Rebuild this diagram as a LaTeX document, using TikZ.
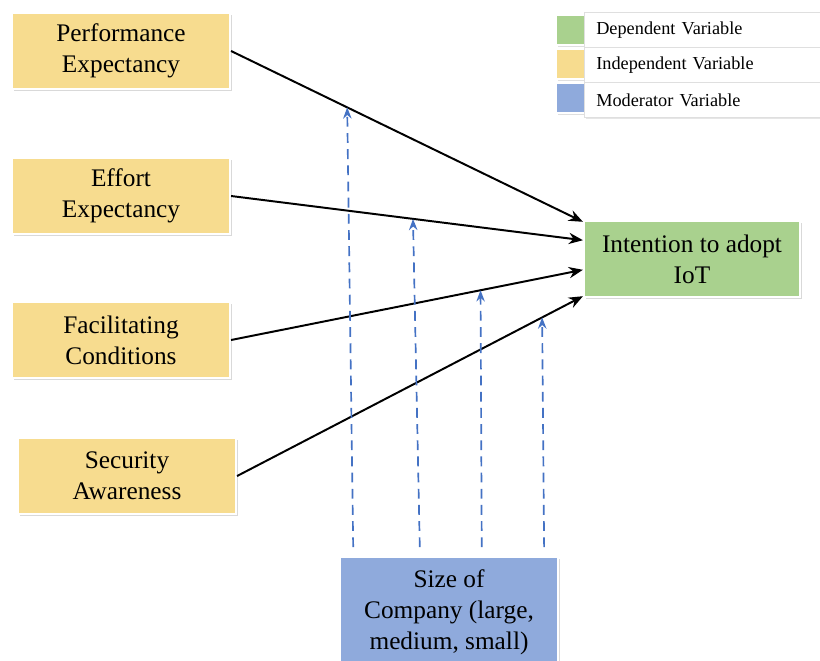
\documentclass[tikz,border=0pt]{standalone}
\usepackage{xcolor}
\usepackage{fontspec}
\setmainfont{Liberation Serif}
\usepackage{tikz}
\usetikzlibrary{shapes,arrows.meta,positioning,calc,shadows}

\definecolor{ivcol}{RGB}{247,220,143}
\definecolor{dvcol}{RGB}{169,209,142}
\definecolor{mvcol}{RGB}{143,170,220}
\definecolor{modline}{RGB}{68,114,196}

\tikzset{
  varbox/.style={rectangle, draw=white, line width=1.5pt, minimum width=5.45cm, minimum height=1.9cm,
    align=center, font=\rmfamily\fontsize{18}{22}\selectfont,
    drop shadow={opacity=0.3, shadow xshift=0.6mm, shadow yshift=-0.6mm}},
  keybox/.style={rectangle, draw=gray!25, fill=white, minimum height=0.875cm, text width=5.4cm,
    inner xsep=0.3cm, align=left, anchor=west, font=\rmfamily\fontsize{13}{15}\selectfont,
    drop shadow={opacity=0.2, shadow xshift=0.4mm, shadow yshift=-0.4mm}},
  swatch/.style={rectangle, draw=white, line width=1pt, minimum size=0.75cm,
    drop shadow={opacity=0.25, shadow xshift=0.4mm, shadow yshift=-0.4mm}},
  effect/.style={-{Stealth[length=10pt, width=8pt]}, line width=1.4pt},
  moderate/.style={-{Stealth[length=8pt, width=6pt]}, line width=1.2pt, modline, dash pattern=on 7pt off 4.5pt}
}

\begin{document}
\begin{tikzpicture}[x=0.025cm, y=-0.025cm]
        \useasboundingbox (0,0) rectangle (820,660);

        % Independent variables
        \node (perf) [varbox, fill=ivcol] at (121,51) {Performance\\Expectancy};
        \node (effort) [varbox, fill=ivcol] at (121,196) {Effort\\Expectancy};
        \node (facil) [varbox, fill=ivcol] at (121,340) {Facilitating\\Conditions};
        \node (secur) [varbox, fill=ivcol] at (127,476) {Security\\Awareness};

        % Dependent and moderator
        \node (intent) [varbox, fill=dvcol, minimum width=5.4cm] at (692,259) {Intention to adopt\\IoT};
        \node (size) [varbox, fill=mvcol, minimum height=2.75cm] at (449,612) {Size of\\Company (large,\\medium, small)};

        % Legend
        \node (depsw) [swatch, fill=dvcol] at (571,30) {};
        \node (indsw) [swatch, fill=ivcol] at (571,64) {};
        \node (modsw) [swatch, fill=mvcol] at (571,98) {};
        \node (depkey) [keybox] at (584,30) {Dependent Variable};
        \node (indkey) [keybox] at (584,65) {Independent Variable};
        \node (modkey) [keybox] at (584,100) {Moderator Variable};

        % Arrows
        \draw[effect] (perf.east) -- coordinate[pos=0.33] (m1) ([yshift=0.93cm]intent.west);
        \draw[effect] (effort.east) -- coordinate[pos=0.517] (m2) ([yshift=0.47cm]intent.west);
        \draw[effect] (facil.east) -- coordinate[pos=0.709] (m3) ([yshift=-0.27cm]intent.west);
        \draw[effect] (secur.east) -- coordinate[pos=0.882] (m4) ([yshift=-0.93cm]intent.west);

        % Moderating effects
        \foreach \m/\dx in {m1/0.15, m2/0.17, m3/0.03, m4/0.05}
            \draw[moderate] ([xshift=\dx cm, yshift=0.22cm]size.north -| \m) -- (\m);
    \end{tikzpicture}
\end{document}
